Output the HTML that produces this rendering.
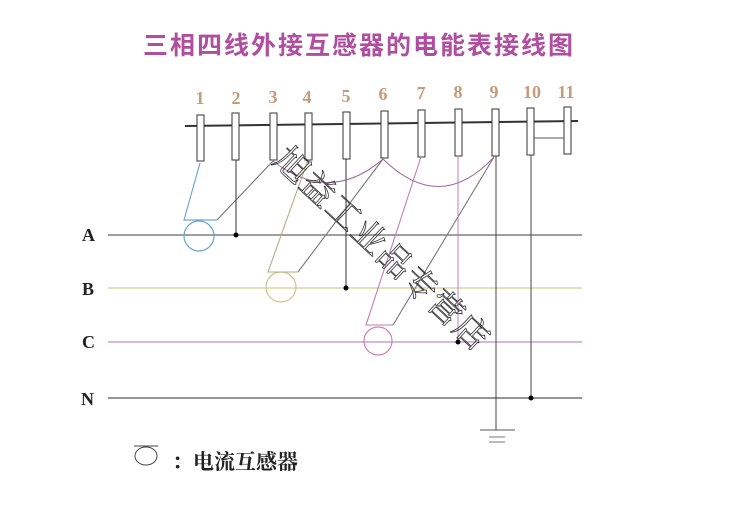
<!DOCTYPE html>
<html><head><meta charset="utf-8"><style>
html,body{margin:0;padding:0;background:#fff;}
svg{display:block;}
</style></head><body>
<svg width="750" height="511" viewBox="0 0 750 511" xmlns="http://www.w3.org/2000/svg">
<rect width="750" height="511" fill="#fff"/>
<text x="359" y="54" text-anchor="middle" font-family="Liberation Sans, Noto Sans CJK SC, sans-serif" font-size="25" font-weight="bold" fill="#b04fa0" letter-spacing="2">三相四线外接互感器的电能表接线图</text>
<g font-family="Liberation Serif, serif" font-size="18" font-weight="bold" fill="#c89a78" text-anchor="middle">
<text x="200" y="104">1</text><text x="236" y="104">2</text><text x="273" y="103">3</text><text x="307" y="103">4</text><text x="346" y="102">5</text><text x="383" y="100">6</text><text x="421" y="99">7</text><text x="458" y="98">8</text><text x="494" y="98">9</text><text x="532" y="98">10</text><text x="566" y="98">11</text>
</g>
<line x1="185" y1="126" x2="578" y2="121" stroke="#333" stroke-width="2"/>
<g fill="#fff" stroke="#333" stroke-width="1">
<rect x="197" y="115" width="7" height="46"/><rect x="232" y="113" width="7" height="47"/><rect x="270" y="113" width="7" height="47"/><rect x="305" y="113" width="7" height="47"/><rect x="343" y="112" width="7" height="47"/><rect x="381" y="111" width="7" height="47"/><rect x="418" y="110" width="7" height="47"/><rect x="455" y="109" width="7" height="47"/><rect x="492" y="109" width="7" height="47"/><rect x="527" y="108" width="7" height="47"/><rect x="564" y="107" width="7" height="47"/>
</g>
<line x1="534" y1="138" x2="564" y2="138" stroke="#555"/>
<line x1="108" y1="235" x2="582" y2="235" stroke="#666" stroke-width="1.3"/>
<line x1="108" y1="288" x2="582" y2="288" stroke="#d0d090" stroke-width="1.3"/>
<line x1="108" y1="342" x2="582" y2="342" stroke="#b890c0" stroke-width="1.3"/>
<line x1="108" y1="398" x2="582" y2="398" stroke="#555" stroke-width="1.3"/>
<g font-family="Liberation Serif, serif" font-weight="bold" font-size="18" fill="#222">
<text x="82" y="241">A</text><text x="82" y="295">B</text><text x="82" y="348">C</text><text x="81" y="405">N</text>
</g>
<circle cx="199" cy="236" r="15" fill="none" stroke="#6aa0c8" stroke-width="1.2"/>
<circle cx="281" cy="287" r="15" fill="none" stroke="#c8c890" stroke-width="1.2"/>
<circle cx="378" cy="341" r="14" fill="none" stroke="#d080b8" stroke-width="1.2"/>
<polyline points="200,163 184,220 217,220" fill="none" stroke="#70a8d0" stroke-width="1.2"/>
<line x1="217" y1="220" x2="273" y2="161" stroke="#777" stroke-width="1.1"/>
<line x1="236" y1="160" x2="236" y2="235" stroke="#333"/>
<circle cx="236" cy="235" r="2.5" fill="#000"/>
<polyline points="308,160 268,272 298,272" fill="none" stroke="#b0b080" stroke-width="1.1"/>
<line x1="298" y1="272" x2="383" y2="159" stroke="#777" stroke-width="1.1"/>
<line x1="346" y1="159" x2="346" y2="288" stroke="#333"/>
<circle cx="346" cy="288" r="2.5" fill="#000"/>
<polyline points="421,157 366,325 393,325" fill="none" stroke="#c080b0" stroke-width="1.1"/>
<line x1="393" y1="325" x2="494" y2="157" stroke="#777" stroke-width="1.1"/>
<line x1="458" y1="156" x2="458" y2="342" stroke="#c080b0"/>
<circle cx="458" cy="342" r="2.5" fill="#000"/>
<line x1="496" y1="156" x2="496" y2="430" stroke="#444"/>
<line x1="531" y1="155" x2="531" y2="398" stroke="#444"/>
<circle cx="531" cy="398" r="2.5" fill="#000"/>
<path d="M273,161 Q330,205 383,159" fill="none" stroke="#a070a0" stroke-width="1.1"/>
<path d="M383,159 Q440,215 494,157" fill="none" stroke="#a070a0" stroke-width="1.1"/>
<line x1="480" y1="430" x2="515" y2="430" stroke="#555"/>
<line x1="489" y1="437" x2="505" y2="437" stroke="#777"/>
<line x1="489" y1="442" x2="505" y2="442" stroke="#777"/>
<text x="272" y="162" transform="rotate(43 272 162)" font-family="Liberation Serif, Noto Serif CJK SC, serif" font-size="34" fill="none" stroke="#333" stroke-width="0.8" letter-spacing="1">旭益工业品专营店</text>
<ellipse cx="146" cy="456" rx="11" ry="9" fill="none" stroke="#444"/>
<line x1="134" y1="446" x2="158" y2="446" stroke="#444"/>
<text x="172" y="469" font-family="Liberation Serif, Noto Serif CJK SC, serif" font-weight="bold" font-size="21" fill="#222">：电流互感器</text>
</svg>
</body></html>
